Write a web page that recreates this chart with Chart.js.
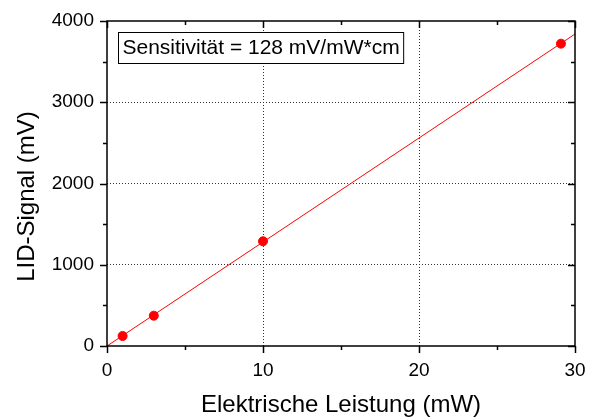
<!DOCTYPE html>
<html>
<head>
<meta charset="utf-8">
<script src="https://cdn.jsdelivr.net/npm/chart.js@4.4.0/dist/chart.umd.min.js"></script>
<style>
  html, body { margin: 0; padding: 0; background: #fff; }
  #wrap { width: 594px; height: 418px; }
</style>
</head>
<body>
<div id="wrap"><canvas id="chart" width="594" height="418"></canvas></div>
<script>
// measured points
var powerMW = [1, 3, 10, 29.1];
var signalMV = [123, 373, 1289, 3721];
// linear fit, slope 128 mV/mW
var fitX = [0, 30];
var fitY = [0, 3840];
var xTicks = [0, 10, 20, 30];
var yTicks = [0, 1000, 2000, 3000, 4000];
var xMinor = [5, 15, 25];
var yMinor = [500, 1500, 2500, 3500];
var xTitle = 'Elektrische Leistung (mW)';
var yTitle = 'LID-Signal (mV)';
var note = 'Sensitivität = 128 mV/mW*cm';

var FONT = 'Liberation Sans, Arial, sans-serif';

function edgeColor(c, lo, hi) {
  var v = c.tick.value;
  return (v === lo || v === hi) ? 'rgba(0,0,0,0)' : '#333';
}

var framePlugin = {
  id: 'frame',
  afterDraw: function(chart) {
    var ctx = chart.ctx, a = chart.chartArea;
    var xs = chart.scales.x, ys = chart.scales.y;
    ctx.save();
    ctx.strokeStyle = '#000';
    ctx.lineWidth = 1.5;
    ctx.strokeRect(a.left, a.top, a.right - a.left, a.bottom - a.top);
    ctx.beginPath();
    function xt(v, len) {
      var p = Math.round(xs.getPixelForValue(v)) + 0.5;
      ctx.moveTo(p, a.bottom); ctx.lineTo(p, a.bottom + len);
      ctx.moveTo(p, a.top); ctx.lineTo(p, a.top + len);
    }
    function yt(v, len) {
      var p = Math.round(ys.getPixelForValue(v)) + 0.5;
      ctx.moveTo(a.left, p); ctx.lineTo(a.left - len, p);
      ctx.moveTo(a.right, p); ctx.lineTo(a.right - len, p);
    }
    xTicks.forEach(function(v) { xt(v, 7); });
    xMinor.forEach(function(v) { xt(v, 4); });
    yTicks.forEach(function(v) { yt(v, 7); });
    yMinor.forEach(function(v) { yt(v, 4); });
    ctx.stroke();

    // y axis title, a bit below the middle as in the original
    ctx.fillStyle = '#000';
    ctx.font = '24px ' + FONT;
    ctx.textAlign = 'center';
    ctx.textBaseline = 'middle';
    ctx.save();
    ctx.translate(27, (a.top + a.bottom) / 2 + 13);
    ctx.rotate(-Math.PI / 2);
    ctx.fillText(yTitle, 0, 0);
    ctx.restore();

    // sensitivity box
    ctx.font = '21px ' + FONT;
    ctx.textAlign = 'left';
    var w = ctx.measureText(note).width;
    var bx = a.left + 11.5, by = a.top + 11.5;
    ctx.fillStyle = '#fff';
    ctx.fillRect(bx, by, w + 8, 31);
    ctx.lineWidth = 1;
    ctx.strokeRect(bx, by, w + 8, 31);
    ctx.fillStyle = '#000';
    ctx.fillText(note, bx + 4, by + 16);
    ctx.restore();
  }
};

new Chart(document.getElementById('chart'), {
  type: 'scatter',
  data: {
    datasets: [{
      type: 'line',
      data: fitX.map(function(x, i) { return {x: x, y: fitY[i]}; }),
      borderColor: '#ff0000',
      borderWidth: 1,
      pointRadius: 0,
      fill: false
    }, {
      data: powerMW.map(function(x, i) { return {x: x, y: signalMV[i]}; }),
      backgroundColor: '#ff0000',
      borderColor: '#ff0000',
      pointRadius: 4.5,
      pointHoverRadius: 4.5
    }]
  },
  options: {
    responsive: false,
    animation: false,
    layout: { padding: { left: 0, right: 19, top: 21, bottom: 0 } },
    plugins: { legend: { display: false }, tooltip: { enabled: false } },
    scales: {
      x: {
        type: 'linear', min: 0, max: 30,
        afterBuildTicks: function(s) { s.ticks = xTicks.map(function(v) { return {value: v}; }); },
        afterFit: function(s) { s.height = 72; s.paddingLeft = 0; s.paddingRight = 0; },
        border: { display: false, dash: [1, 2] },
        grid: { drawTicks: false, color: function(c) { return edgeColor(c, 0, 30); }, lineWidth: 1 },
        ticks: { color: '#000', padding: 13, font: { family: FONT, size: 19 },
                 callback: function(v) { return String(v); } },
        title: { display: true, text: xTitle, color: '#000', padding: { top: 0, bottom: -2 }, font: { family: FONT, size: 24 } }
      },
      y: {
        type: 'linear', min: 0, max: 4000,
        afterBuildTicks: function(s) { s.ticks = yTicks.map(function(v) { return {value: v}; }); },
        afterFit: function(s) { s.width = 107; s.paddingTop = 0; s.paddingBottom = 0; },
        border: { display: false, dash: [1, 2] },
        grid: { drawTicks: false, color: function(c) { return edgeColor(c, 0, 4000); }, lineWidth: 1 },
        ticks: { color: '#000', padding: 13, font: { family: FONT, size: 19 },
                 callback: function(v) { return String(v); } }
      }
    }
  },
  plugins: [framePlugin]
});
</script>
</body>
</html>
